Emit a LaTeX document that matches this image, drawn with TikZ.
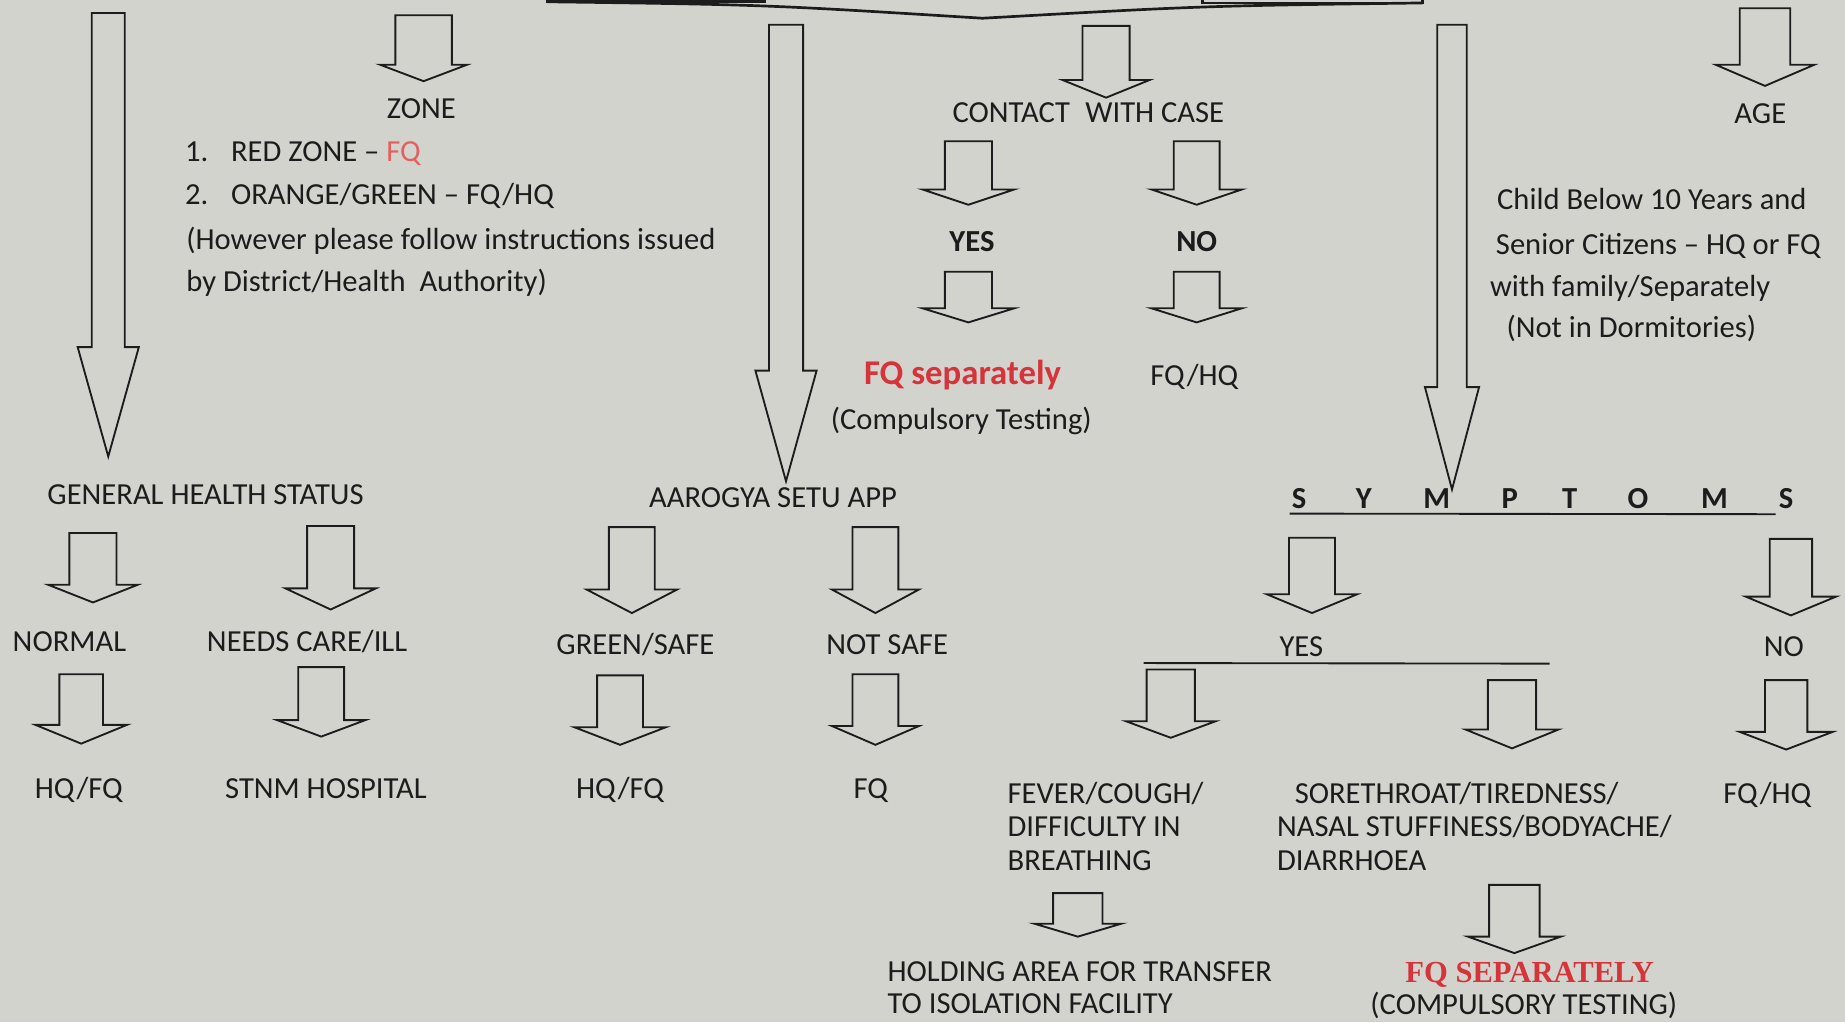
\documentclass[tikz,border=0pt]{standalone}
\usepackage{fontspec}
\setmainfont{Carlito}
\newfontfamily\serifhead{Liberation Serif}
\usepackage{tikz}
\usepackage{xcolor}

\definecolor{paper}{RGB}{211,211,206}
\definecolor{ink}{RGB}{28,28,28}
\definecolor{fqred}{RGB}{212,52,58}
\definecolor{fqpink}{RGB}{226,96,96}

\newcommand{\lblfont}{\fontsize{14.8}{17}\selectfont}
% block arrow: centre x, top y, head base y, tip y, half shaft, half head
\newcommand{\blockarrow}[6]{%
  \draw[arrowline] (#1-#5,#2)--(#1+#5,#2)--(#1+#5,#3)--(#1+#6,#3)--(#1,#4)--(#1-#6,#3)--(#1-#5,#3)--cycle;}

\tikzset{
  lbl/.style={font=\lblfont, text=ink, inner sep=0pt, anchor=base},
  lblw/.style={lbl, anchor=base west},
  lblb/.style={lbl, font=\lblfont\bfseries},
  arrowline/.style={draw=ink, line width=0.9pt, line join=miter},
  boxline/.style={draw=ink, line width=1.3pt},
}

\begin{document}
\begin{tikzpicture}[x=0.02cm, y=-0.02cm]
    \useasboundingbox (0,0) rectangle (1568,868.6);
    \clip (0,0) rectangle (1568,868.6);
    \fill[paper] (0,0) rectangle (1568,868.6);

    % top boxes and joining line
    \draw[boxline] (465,-30) rectangle (650,1.5);
    \draw[boxline] (1022,-30) rectangle (1209,2.5);
    \draw[boxline] (465,1.5) .. controls (650,4) .. (835,15.5) .. controls (1022,5) .. (1209,2.5);

    % long arrows
    \blockarrow{92}{11}{295}{388}{14}{26}
    \blockarrow{668}{21}{315}{409}{14.5}{26}
    \blockarrow{1234}{21}{329}{416}{12.5}{23}

    % zone
    \blockarrow{360}{13}{55}{69}{24}{37}
    \node[lbl] (zone) at (358,101) {ZONE};
    \node[lblw] (zone1) at (157,137) {\makebox[0.78cm][l]{1.}RED ZONE -- \textcolor{fqpink}{FQ}};
    \node[lblw] (zone2) at (157,174) {\makebox[0.78cm][l]{2.}ORANGE/GREEN -- FQ/HQ};
    \node[lblw] (zone3) at (158,212) {(However please follow instructions issued};
    \node[lblw] (zone4) at (158,248) {by District/Health\ \ Authority)};

    % contact with case
    \blockarrow{940}{22}{68}{83}{20}{37}
    \node[lbl] (contact) at (925,104) {CONTACT\enspace WITH CASE};
    \blockarrow{823}{120}{161}{174}{20}{39}
    \blockarrow{1017}{120}{161}{174}{19.5}{38.5}
    \node[lblb] (cyes) at (826,214) {YES};
    \node[lblb] (cno) at (1017,214) {NO};
    \blockarrow{823}{231}{262}{274}{20}{39}
    \blockarrow{1017}{231}{262}{274}{19.5}{38.5}
    \node[lbl, font=\fontsize{16.8}{19}\selectfont\bfseries, text=fqred] (fqsep) at (818,327) {FQ separately};
    \node[lbl] (comptest) at (817,365) {(Compulsory Testing)};
    \node[lbl] (cfqhq) at (1015,328) {FQ/HQ};

    % age
    \blockarrow{1500}{7}{55}{73}{21.5}{42}
    \node[lbl] (age) at (1496,105) {AGE};
    \node[lblw] (age1) at (1272,178) {Child Below 10 Years and};
    \node[lblw] (age2) at (1271,216) {Senior Citizens -- HQ or FQ};
    \node[lblw] (age3) at (1266,252) {with family/Separately};
    \node[lblw] (age4) at (1280,287) {(Not in Dormitories)};

    % general health status
    \node[lblw] (health) at (40,429) {GENERAL HEALTH STATUS};
    \blockarrow{79}{453}{497}{512}{20}{38}
    \blockarrow{281}{447}{500}{518}{20}{38.5}
    \node[lbl] (normal) at (59,554) {NORMAL};
    \node[lbl] (ill) at (261,554) {NEEDS CARE/ILL};
    \blockarrow{69}{573}{616}{632}{18.5}{39}
    \blockarrow{273}{567}{612}{626}{19.5}{37.5}
    \node[lbl] (hqfq1) at (67,679) {HQ/FQ};
    \node[lbl] (stnm) at (277,679) {STNM HOSPITAL};

    % aarogya setu
    \node[lbl] (setu) at (657,431) {AAROGYA SETU APP};
    \blockarrow{537}{448}{501}{521}{19.5}{38.5}
    \blockarrow{744}{448}{501}{521}{19.5}{37}
    \node[lbl] (green) at (540,556) {GREEN/SAFE};
    \node[lbl] (notsafe) at (754,556) {NOT SAFE};
    \blockarrow{527}{574}{618}{633}{19.5}{39}
    \blockarrow{744}{573}{617}{633}{19.5}{37}
    \node[lbl] (hqfq2) at (527,679) {HQ/FQ};
    \node[lbl] (fq) at (740,679) {FQ};

    % symptoms
    \foreach \ch/\xx [count=\i] in {S/1104,Y/1159,M/1221,P/1283,T/1334,O/1392,M/1457,S/1518}
        \node[lblb] (sym\i) at (\xx,432) {\ch};
    \draw[ink, line width=0.9pt] (1096,436.5)--(1509,437);
    \blockarrow{1115}{457}{505}{521}{19.5}{38.5}
    \blockarrow{1522}{458}{507}{523}{18}{38.5}
    \node[lbl] (syes) at (1106,558) {YES};
    \node[lbl] (sno) at (1516,558) {NO};
    \draw[ink, line width=0.9pt] (972,563.5)--(1317,564);
    \blockarrow{995}{569}{613}{627}{20.5}{38}
    \blockarrow{1285}{578}{620}{636}{20.5}{39.5}
    \blockarrow{1518}{578}{622}{637}{18}{39.5}
    \node[lblw] (fever1) at (856,683) {FEVER/COUGH/};
    \node[lblw] (fever2) at (856,711) {DIFFICULTY IN};
    \node[lblw] (fever3) at (856,740) {BREATHING};
    \node[lblw] (sore1) at (1100,683) {SORETHROAT/TIREDNESS/};
    \node[lblw] (sore2) at (1085,711) {NASAL STUFFINESS/BODYACHE/};
    \node[lblw] (sore3) at (1085,740) {DIARRHOEA};
    \node[lbl] (sfqhq) at (1502,683) {FQ/HQ};
    \blockarrow{916}{759}{785}{796}{21}{37}
    \blockarrow{1287}{752}{796}{810}{21.5}{39.5}
    \node[lblw] (hold1) at (754,834) {HOLDING AREA FOR TRANSFER};
    \node[lblw] (hold2) at (754,861) {TO ISOLATION FACILITY};
    \node[lbl, font=\fontsize{14.8}{17}\serifhead\bfseries, text=fqred] (fqsep2) at (1300,835) {FQ SEPARATELY};
    \node[lbl] (comptest2) at (1295,862) {(COMPULSORY TESTING)};
\end{tikzpicture}
\end{document}
